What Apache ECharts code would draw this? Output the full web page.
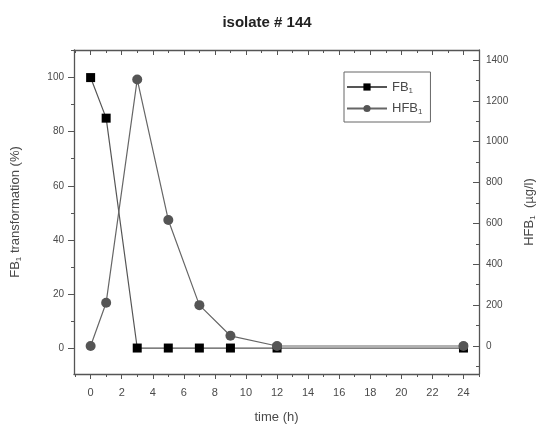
<!DOCTYPE html>
<html>
<head>
<meta charset="utf-8">
<script src="https://cdn.jsdelivr.net/npm/echarts@6/dist/echarts.min.js"></script>
<style>html,body{margin:0;padding:0;background:#fff}#c{width:536px;height:425px}</style>
</head>
<body>
<div id="c"></div>
<script>
const times = [0, 1, 3, 5, 7, 9, 12, 24];
const fb1 = [100, 85, 0, 0, 0, 0, 0, 0];
const hfb1 = [0, 212, 1305, 617, 200, 50, 0, 0];
const xTicks = [0, 2, 4, 6, 8, 10, 12, 14, 16, 18, 20, 22, 24];
const xMinorTicks = [-1, 1, 3, 5, 7, 9, 11, 13, 15, 17, 19, 21, 23, 25];
const leftTicks = [0, 20, 40, 60, 80, 100];
const leftMinorTicks = [-10, 10, 30, 50, 70, 90, 110];
const rightTicks = [0, 200, 400, 600, 800, 1000, 1200, 1400];
const rightMinorTicks = [-100, 100, 300, 500, 700, 900, 1100, 1300];

const txt = '#4a4a4a';
const ax = '#555';
const font = 'Liberation Sans, Arial, sans-serif';
const sub = {sub: {fontSize: 8, fontFamily: font, color: txt, padding: [7, 0, 0, 0]}};

const X0 = -1.07, X1 = 25.0;
const L0 = -9.6, L1 = 110.2;
const R0 = -137, R1 = 1449;
const plain = v => String(v);

function xAx(pos, ticks, len, inside, line, extra) {
  return Object.assign({
    type: 'value', position: pos, min: X0, max: X1,
    axisLine: {show: line, onZero: false, lineStyle: {color: ax, width: 1.3}},
    axisTick: {show: true, inside: inside, length: len, customValues: ticks, lineStyle: {color: ax}},
    axisLabel: {show: false}, splitLine: {show: false}
  }, extra || {});
}
function yAx(pos, mn, mx, ticks, len, inside, line, extra) {
  return Object.assign({
    type: 'value', position: pos, min: mn, max: mx,
    axisLine: {show: line, onZero: false, lineStyle: {color: ax, width: 1.3}},
    axisTick: {show: true, inside: inside, length: len, customValues: ticks, lineStyle: {color: ax}},
    axisLabel: {show: false}, splitLine: {show: false}
  }, extra || {});
}

const chart = echarts.init(document.getElementById('c'), null, {renderer: 'canvas'});
chart.setOption({
  animation: false,
  backgroundColor: '#fff',
  title: {
    text: 'isolate # 144', left: 262, top: 10, textAlign: 'center',
    textStyle: {fontFamily: font, fontSize: 15, fontWeight: 'bold', color: '#222'}
  },
  grid: {left: 74, right: 57, top: 50, bottom: 51, containLabel: false, outerBoundsMode: 'none'},
  legend: {
    orient: 'vertical', left: 344, top: 72,
    padding: [8, 8, 6, 2], itemGap: 7, itemWidth: 40, itemHeight: 9,
    borderColor: '#666', borderWidth: 1,
    textStyle: {fontFamily: font, fontSize: 13, color: txt, lineHeight: 14, rich: sub},
    formatter: function (n) { return n === 'FB1' ? 'FB{sub|1}' : 'HFB{sub|1}'; },
    data: ['FB1', 'HFB1']
  },
  xAxis: [
    xAx('bottom', xTicks, 5, false, true, {
      name: 'time (h)', nameLocation: 'middle', nameGap: 37,
      nameTextStyle: {fontFamily: font, fontSize: 13, color: txt},
      axisLabel: {show: true, customValues: xTicks, margin: 13, fontFamily: font, fontSize: 11, color: txt, formatter: plain}
    }),
    xAx('top', xTicks, 5, true, true),
    xAx('bottom', xMinorTicks, 3, false, false),
    xAx('top', xMinorTicks, 3, true, false)
  ],
  yAxis: [
    yAx('left', L0, L1, leftTicks, 6, false, true, {
      name: 'FB{sub|1} transformation (%)', nameLocation: 'middle', nameGap: 51,
      nameTextStyle: {fontFamily: font, fontSize: 13, color: txt, rich: sub},
      axisLabel: {show: true, customValues: leftTicks, margin: 10, fontFamily: font, fontSize: 10, color: txt, formatter: plain}
    }),
    yAx('right', R0, R1, rightTicks, 6, true, true, {
      name: 'HFB{sub|1}  (µg/l)', nameLocation: 'middle', nameGap: 43,
      nameTextStyle: {fontFamily: font, fontSize: 13, color: txt, rich: sub},
      axisLabel: {show: true, customValues: rightTicks, margin: 7, fontFamily: font, fontSize: 10, color: txt, formatter: plain}
    }),
    yAx('left', L0, L1, leftMinorTicks, 3, false, false),
    yAx('right', R0, R1, rightMinorTicks, 3, true, false)
  ],
  series: [
    {
      name: 'FB1', type: 'line', xAxisIndex: 0, yAxisIndex: 0,
      data: times.map((t, i) => [t, fb1[i]]),
      symbol: 'rect', symbolSize: 9,
      itemStyle: {color: '#000'},
      lineStyle: {color: '#555', width: 1.2},
      z: 2
    },
    {
      name: 'HFB1', type: 'line', xAxisIndex: 0, yAxisIndex: 1,
      data: times.map((t, i) => [t, hfb1[i]]),
      symbol: 'circle', symbolSize: 10,
      itemStyle: {color: '#555'},
      lineStyle: {color: '#666', width: 1.2},
      z: 3
    }
  ]
});
</script>
</body>
</html>
